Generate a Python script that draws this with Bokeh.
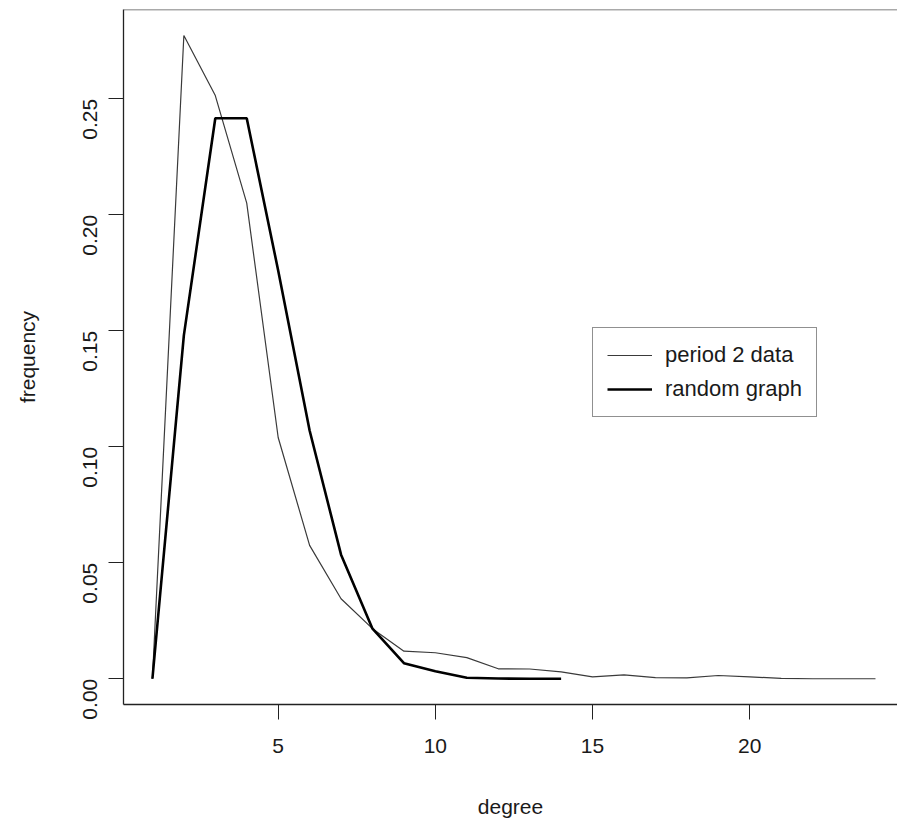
from bokeh.plotting import figure
from bokeh.models import (FixedTicker, NumeralTickFormatter, Legend, LegendItem,
                          Span, Range1d, ColumnDataSource)
from bokeh.embed import file_html
from bokeh.resources import INLINE
import math

# ---- data ----
period2_degree = list(range(1, 25))
period2_freq = [0.0, 0.2773, 0.2514, 0.2050, 0.1040, 0.0575, 0.0345, 0.0216,
                0.0119, 0.0112, 0.0091, 0.0043, 0.0042, 0.0030, 0.0008, 0.0017,
                0.0005, 0.0004, 0.0014, 0.0008, 0.0002, 0.0, 0.0, 0.0]
random_degree = list(range(1, 15))
random_freq = [0.0, 0.1480, 0.2416, 0.2416, 0.1760, 0.1070, 0.0535, 0.0216,
               0.0067, 0.0032, 0.0004, 0.0001, 0.0, 0.0]
x_ticks = [5, 10, 15, 20]
y_ticks = [0.0, 0.05, 0.10, 0.15, 0.20, 0.25]
series_labels = ["period 2 data", "random graph"]

FONT = "Liberation Sans"
FS = "21px"

y_top = 0.2885
p = figure(width=897, height=828, output_backend="svg", toolbar_location=None,
           x_range=Range1d(0.08, 24.70), y_range=Range1d(-0.0111, y_top),
           min_border_left=123, min_border_right=0, min_border_top=9,
           min_border_bottom=124)
p.background_fill_color = "white"
p.border_fill_color = "white"
p.outline_line_color = None
p.grid.visible = False

src_p = ColumnDataSource(dict(x=period2_degree, y=period2_freq))
src_r = ColumnDataSource(dict(x=random_degree, y=random_freq))
r1 = p.line("x", "y", source=src_p, line_color="#3a3a3a", line_width=1.2)
r2 = p.line("x", "y", source=src_r, line_color="black", line_width=2.6)

# top border of the box
p.add_layout(Span(location=y_top, dimension="width", line_color="#555555",
                  line_width=1.5))

for ax in (p.xaxis, p.yaxis):
    ax.axis_line_color = "#222222"
    ax.axis_line_width = 1.3
    ax.major_tick_line_color = "#222222"
    ax.major_tick_out = 15
    ax.major_tick_in = 0
    ax.minor_tick_line_color = None
    ax.major_label_text_font = FONT
    ax.major_label_text_font_size = FS
    ax.major_label_text_color = "#1a1a1a"
    ax.axis_label_text_font = FONT
    ax.axis_label_text_font_size = FS
    ax.axis_label_text_font_style = "normal"
    ax.axis_label_text_color = "#1a1a1a"

p.xaxis.ticker = FixedTicker(ticks=x_ticks)
p.xaxis.axis_label = "degree"
p.xaxis.major_label_standoff = 19
p.xaxis.axis_label_standoff = 39

p.yaxis.ticker = FixedTicker(ticks=y_ticks)
p.yaxis.formatter = NumeralTickFormatter(format="0.00")
p.yaxis.major_label_orientation = math.pi / 2
p.yaxis.axis_label = "frequency"
p.yaxis.major_label_standoff = 18
p.yaxis.axis_label_standoff = 35

legend = Legend(items=[LegendItem(label=series_labels[0], renderers=[r1]),
                       LegendItem(label=series_labels[1], renderers=[r2])],
                location=(469, 287), orientation="vertical",
                border_line_color="#222222", border_line_width=1.2,
                background_fill_color="white", background_fill_alpha=1.0,
                padding=14, spacing=8, glyph_width=45, glyph_height=24,
                label_height=24, label_standoff=13,
                label_text_font=FONT, label_text_font_size="22px",
                label_text_color="#1a1a1a", margin=0)
p.add_layout(legend, "center")

open("out.html", "w").write(file_html(p, INLINE))
